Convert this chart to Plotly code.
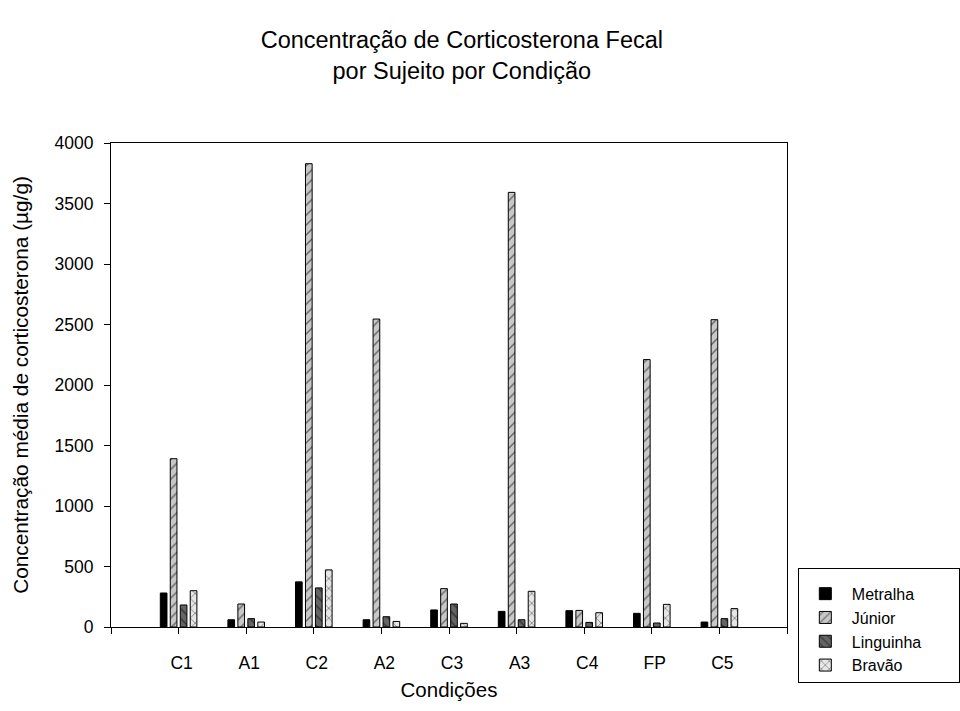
import numpy as np
import plotly.graph_objects as go

# Mean faecal corticosterone (µg/g) per subject in each condition
conditions = ["C1", "A1", "C2", "A2", "C3", "A3", "C4", "FP", "C5"]
metralha = [281, 60, 373, 60, 141, 129, 135, 113, 41]
junior = [1391, 190, 3829, 2545, 317, 3592, 137, 2210, 2540]
linguinha = [182, 69, 323, 85, 190, 60, 38, 33, 69]
bravao = [300, 41, 472, 46, 30, 295, 118, 187, 152]
y_ticks = [0, 500, 1000, 1500, 2000, 2500, 3000, 3500, 4000]

FONT = "Liberation Sans, Arial, sans-serif"
xpos = np.arange(len(conditions))

series = [
    ("Metralha", metralha, "#000000", ""),
    ("Júnior", junior, "#c8c8c8", "/"),
    ("Linguinha", linguinha, "#646464", "\\"),
    ("Bravão", bravao, "#e6e6e6", "x"),
]

fig = go.Figure()
for name, vals, bg, shape in series:
    marker = dict(color=bg, line=dict(color="black", width=1))
    if shape:
        marker["pattern"] = dict(shape=shape, fillmode="overlay",
                                 fgcolor="black", size=7, solidity=0.2)
    fig.add_trace(go.Bar(name=name, x=xpos, y=vals, marker=marker))

# blank legend heading: gives the legend box its top padding and width
legend_pad = "\u00a0" * 93

fig.update_layout(
    width=960, height=711,
    margin=dict(l=111, r=173, t=143, b=84, autoexpand=False),
    paper_bgcolor="white", plot_bgcolor="white",
    barmode="group", bargap=0.41, bargroupgap=0.33,
    font=dict(family=FONT, size=17.5, color="black"),
    title=dict(
        text="Concentração de Corticosterona Fecal<br>por Sujeito por Condição",
        x=0.519, xref="paper", xanchor="center",
        y=0.932, yanchor="top",
        font=dict(size=23.5, family=FONT, color="black"),
    ),
    showlegend=True,
    legend=dict(
        x=1.016, xanchor="left", y=0.122, yanchor="top",
        bordercolor="black", borderwidth=1, bgcolor="white",
        font=dict(size=16, family=FONT),
        title=dict(text=legend_pad, font=dict(size=6, family=FONT)),
        itemwidth=43,
        tracegroupgap=0,
    ),
)

fig.update_xaxes(
    range=[-1, len(conditions)],
    tickmode="array",
    tickvals=[-1] + list(xpos) + [len(conditions)],
    ticktext=[""] + conditions + [""],
    ticks="outside", ticklen=6, tickcolor="black",
    ticklabelstandoff=14, ticklabelshift=3,
    showline=True, linecolor="black", linewidth=1, mirror=True,
    showgrid=False, zeroline=False,
    title=dict(text="Condições", font=dict(size=20.5), standoff=10),
)
fig.update_yaxes(
    range=[0, 4000],
    tickmode="array", tickvals=y_ticks,
    ticks="outside", ticklen=6, tickcolor="black",
    ticklabelstandoff=7,
    showline=True, linecolor="black", linewidth=1, mirror=True,
    showgrid=False, zeroline=False,
    title=dict(text="Concentração média de corticosterona (µg/g)",
               font=dict(size=20.8), standoff=20),
)

fig.write_html("out.html")
